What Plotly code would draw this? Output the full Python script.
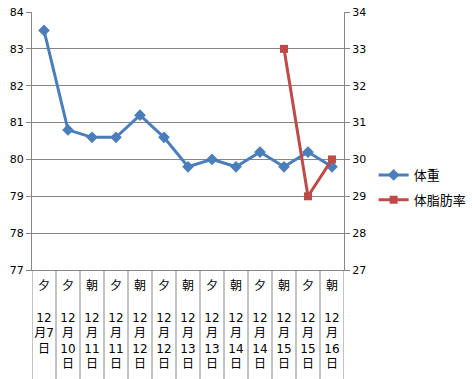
import plotly.graph_objects as go

period = ["夕", "夕", "朝", "夕", "朝", "夕", "朝", "夕", "朝", "夕", "朝", "夕", "朝"]
dates = ["12<br>月7<br>日", "12<br>月<br>10<br>日", "12<br>月<br>11<br>日", "12<br>月<br>11<br>日",
         "12<br>月<br>12<br>日", "12<br>月<br>12<br>日", "12<br>月<br>13<br>日", "12<br>月<br>13<br>日",
         "12<br>月<br>14<br>日", "12<br>月<br>14<br>日", "12<br>月<br>15<br>日", "12<br>月<br>15<br>日",
         "12<br>月<br>16<br>日"]
weight = [83.5, 80.8, 80.6, 80.6, 81.2, 80.6, 79.8, 80.0, 79.8, 80.2, 79.8, 80.2, 79.8]
bodyfat = [None, None, None, None, None, None, None, None, None, None, 33.0, 29.0, 30.0]

idx = list(range(len(period)))
ticktext = [p + "<br><br>" + d for p, d in zip(period, dates)]

fam = "DejaVu Sans, Noto Sans CJK JP"
axcol = "#868686"
W, H, L, R, T, B = 472, 379, 32, 128, 12, 109
plot_h = H - T - B

fig = go.Figure()
fig.add_trace(go.Scatter(x=idx, y=weight, name="体重", mode="lines+markers", legendgroup="a",
                         line=dict(color="#4a7ebb", width=3),
                         marker=dict(symbol="diamond", size=9, color="#4a7ebb")))
fig.add_trace(go.Scatter(x=idx, y=bodyfat, name="体脂肪率", mode="lines+markers", yaxis="y2",
                         legendgroup="b",
                         line=dict(color="#be4b48", width=3),
                         marker=dict(symbol="square", size=8, color="#be4b48")))

# category separators below the axis
for i in range(len(idx) + 1):
    fig.add_shape(type="line", xref="x", yref="paper", x0=i - 0.5, x1=i - 0.5,
                  y0=0, y1=-B / plot_h, line=dict(color=axcol, width=1))

fig.update_layout(
    width=W, height=H,
    margin=dict(l=L, r=R, t=T, b=B, autoexpand=False),
    paper_bgcolor="white", plot_bgcolor="white",
    font=dict(family=fam, size=12, color="black"),
    showlegend=True,
    legend=dict(x=1.095, y=0.32, xanchor="left", yanchor="middle", traceorder="grouped",
                font=dict(family="Noto Sans CJK JP", size=13), tracegroupgap=5,
                itemwidth=30, bgcolor="rgba(0,0,0,0)"),
    xaxis=dict(tickmode="array", tickvals=idx, ticktext=ticktext, range=[-0.5, len(idx) - 0.5],
               ticks="", showline=True, linecolor=axcol, showgrid=False, zeroline=False,
               tickangle=0, tickfont=dict(family=fam, size=12), automargin=False,
               ticklabelstandoff=5),
    yaxis=dict(range=[77, 84], dtick=1, showgrid=True, gridcolor=axcol, ticks="outside",
               ticklen=5, tickcolor=axcol, showline=True, linecolor=axcol, zeroline=False,
               tickfont=dict(size=11), automargin=False, ticklabeloverflow="allow"),
    yaxis2=dict(range=[27, 34], dtick=1, overlaying="y", side="right", showgrid=False,
                ticks="outside", ticklen=5, tickcolor=axcol, showline=True, linecolor=axcol,
                zeroline=False, tickfont=dict(size=11), automargin=False,
                ticklabeloverflow="allow"),
)

fig.write_html("out.html", config={"displayModeBar": False},
               post_script="document.body.style.margin='0';")
